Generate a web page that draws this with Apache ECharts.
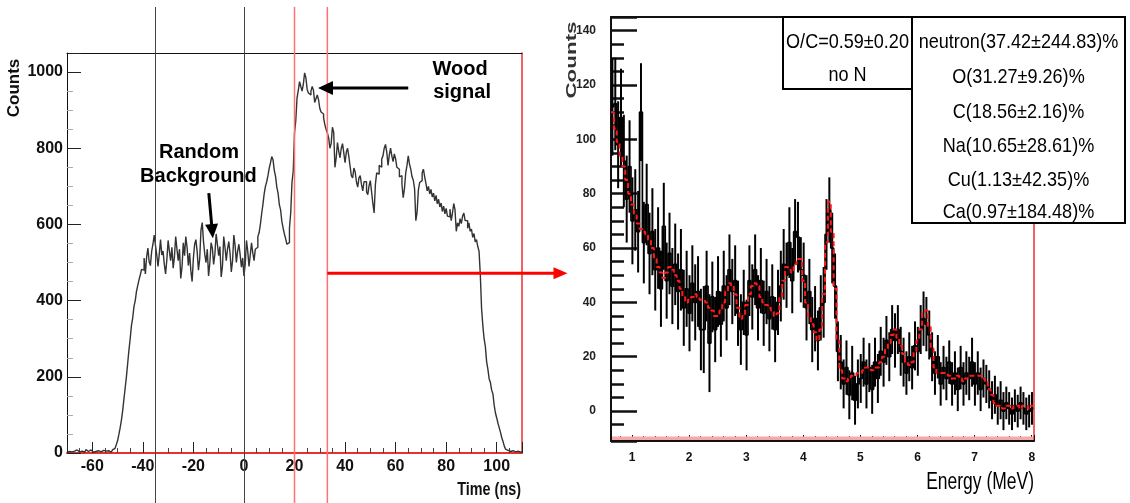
<!DOCTYPE html>
<html><head><meta charset="utf-8">
<script src="https://cdn.jsdelivr.net/npm/echarts@6/dist/echarts.min.js"></script>
<style>html,body{margin:0;padding:0;background:#fff}#c{width:1130px;height:503px}</style>
</head><body><div id="c"></div>
<script>
// ---------- DATA ----------
// Left: time spectrum, 0.5 ns bins starting at -70 ns
const timeStart = -70, timeBin = 0.5;
const timeCounts = [
  2,4,7,3,1,5,4,8,6,3,2,5,7,2,3,9,4,6,8,3,2,5,4,1,6,9,3,4,7,2,5,8,6,3,2,5,
  8,12,15,22,32,48,65,85,110,140,170,200,235,270,300,335,355,385,400,425,440,455,468,482,
  480,512,470,515,538,502,492,530,548,572,545,520,490,522,560,520,530,495,470,508,
  558,530,505,540,485,515,568,535,505,535,458,488,552,518,568,540,492,525,478,450,
  512,548,560,528,480,510,585,605,555,522,500,535,465,498,552,538,495,522,575,548,
  518,542,462,490,568,540,505,535,555,525,475,505,572,545,500,530,548,520,488,512,
  465,495,558,530,490,520,552,525,505,535,540,568,
  578,600,628,652,680,700,712,728,748,762,778,770,742,726,698,682,652,638,608,590,
  575,562,548,552,590,630,710,740,840,872,932,952,975,962,950,968,998,985,955,945,
  940,950,962,952,920,930,940,928,905,895,890,880,862,850,840,828,800,812,855,842,
  750,775,815,792,775,800,812,788,762,790,800,778,752,728,722,748,738,712,698,722,
  728,705,688,712,712,685,678,702,715,685,655,630,705,735,732,755,750,772,780,800,
  810,790,755,782,800,780,765,785,772,750,745,725,728,706,670,694,735,755,780,758,
  745,725,716,694,610,632,690,710,715,735,745,725,708,688,700,680,692,672,682,662,
  676,654,666,646,656,634,648,628,642,622,620,640,610,630,655,638,582,604,595,615,
  602,622,630,610,610,590,604,582,588,566,576,554,560,542,530,470,380,335,300,280,
  240,220,195,185,165,155,125,105,92,78,66,54,40,30,18,10,7,5,4,2,
  6,4,3,1,5,3,2,4
];
const backgroundCuts = [-35, 0];   // ns, black lines
const signalCuts = [20, 33];       // ns, red lines

// Right: energy spectrum, 0.05 MeV bins starting at 0.63 MeV
const energyStart = 0.63, energyBin = 0.05;
const measured = [
  112,113,98,108,92,78,90,70,74,66,
  110,62,76,58,66,52,60,45,68,48,
  58,46,54,44,52,38,45,36,47,40,
  44,30,30,46,25,42,30,44,32,46,
  38,52,44,48,36,30,40,28,48,42,
  52,38,48,36,44,34,42,30,40,46,
  54,50,62,48,66,64,52,50,38,44,
  30,34,26,38,40,65,74,60,46,22,
  18,10,16,6,14,4,10,12,18,10,
  16,8,18,12,22,18,26,20,30,26,
  30,22,18,14,20,16,24,22,30,34,
  32,28,20,14,20,10,16,12,18,10,
  14,8,16,10,14,12,18,10,14,8,
  12,10,8,4,6,2,4,0,3,1,
  -1,2,0,3,1,-1,0,1
];
const measuredErr = [
  18,17,16,18,17,16,17,16,15,15,
  18,15,15,15,16,15,15,14,16,14,
  15,14,15,14,15,14,14,14,14,14,
  13,15,16,13,18,13,12,13,12,13,
  12,13,12,13,12,13,12,13,13,12,
  13,12,12,12,12,12,12,12,12,13,
  13,12,13,12,12,13,12,12,12,12,
  12,12,11,12,13,13,12,13,12,11,
  10,9,10,9,10,9,9,9,9,9,
  9,9,9,9,9,9,9,9,9,10,
  9,9,9,8,9,8,9,9,9,10,
  10,9,9,8,8,8,8,8,8,8,
  8,8,8,8,8,8,9,8,8,8,
  7,7,7,7,7,7,7,7,6,6,
  6,6,6,6,6,6,6,6
];
const fitted = [
  110,104,99,94,90,85,80,76,72,69,
  67,66,65,63,60,56,53,51,49,51,
  53,52,50,48,45,42,40,41,42,43,
  42,41,41,40,38,37,35,35,37,40,
  44,47,46,43,38,34,35,39,43,46,
  47,46,42,40,39,38,37,35,36,42,
  48,53,52,51,54,56,56,48,40,35,
  32,29,26,30,43,62,77,66,45,26,
  15,12,11,12,13,13,14,14,15,16,
  16,15,16,16,18,20,23,25,28,30,
  27,24,21,18,17,18,22,26,30,36,
  37,31,23,16,14,14,14,14,13,12,
  12,13,12,11,12,13,13,13,13,13,
  12,11,8,6,3,2,2,1,2,2,
  1,2,2,1,2,2,1,2
];
const ratioLabels = ['O/C=0.59\u00b10.20', 'no N'];
const fractionLabels = ['neutron(37.42\u00b1244.83)%','O(31.27\u00b19.26)%','C(18.56\u00b12.16)%','Na(10.65\u00b128.61)%','Cu(1.13\u00b142.35)%','Ca(0.97\u00b1184.48)%'];

// annotation anchors (data coordinates of the left chart)
const woodArrow = {from:[65, 958], to:[29.3, 958]};
const bgArrow = {from:[-13.9, 682], to:[-12.3, 564]};
const transferArrow = {from:[33, 472], to:[128, 472]};
const annotations = [
  {text:'Wood', at:[85.5, 1008]}, {text:'signal', at:[86.3, 947]},
  {text:'Random', at:[-17.8, 790]}, {text:'Background', at:[-18, 727]}
];

// ---------- BUILD ----------
function stepData(start, bin, vals){
  const d = vals.map((v,i)=>[+(start+i*bin).toFixed(4), v]);
  d.push([+(start+vals.length*bin).toFixed(4), vals[vals.length-1]]);
  return d;
}
const errData = measured.map((v,i)=>[+(energyStart+(i+0.5)*energyBin).toFixed(4), v-measuredErr[i], v+measuredErr[i]]);

const SANS = "'Liberation Sans',Arial,sans-serif";
const isMult = (v,m)=> Math.abs(v/m - Math.round(v/m)) < 1e-6;

const chart = echarts.init(document.getElementById('c'), null, {renderer:'canvas'});
const hidden = {axisTick:{show:false}, axisLabel:{show:false}, splitLine:{show:false}};
const option = {
  animation:false,
  backgroundColor:'#fff',
  grid:[
    {left:67, top:53, width:455, height:400},
    {left:611, top:17, width:423, height:424}
  ],
  xAxis:[
    {gridIndex:0, type:'value', min:-70, max:110, minInterval:20, maxInterval:20,
     axisLine:{show:true, onZero:false, lineStyle:{color:'#e83030', width:2}},
     axisTick:{show:true, inside:true, length:11, lineStyle:{color:'#222', width:1}},
     minorTick:{show:true, splitNumber:4, length:5, lineStyle:{color:'#444', width:1}},
     axisLabel:{margin:6, color:'#111', fontFamily:SANS, fontWeight:'bold', fontSize:16,
       formatter:v=> isMult(v,20) ? String(Math.round(v)) : ''},
     splitLine:{show:false}},
    Object.assign({gridIndex:0, type:'value', position:'top', min:-70, max:110,
     axisLine:{show:true, onZero:false, lineStyle:{color:'#111', width:1}}}, hidden),
    {gridIndex:1, type:'value', min:0.63, max:8.04, minInterval:1, maxInterval:1,
     axisLine:{show:true, onZero:false, lineStyle:{color:'#111', width:2}},
     axisTick:{show:true, inside:true, length:6, lineStyle:{color:'#111', width:1}},
     minorTick:{show:true, splitNumber:5, length:5, lineStyle:{color:'#111', width:1}},
     axisLabel:{margin:11, color:'#111', fontFamily:SANS, fontWeight:'bold', fontSize:12,
       formatter:v=> isMult(v,1) ? String(Math.round(v)) : ''},
     splitLine:{show:false}},
    Object.assign({gridIndex:1, type:'value', position:'top', min:0.63, max:8.04,
     axisLine:{show:true, onZero:false, lineStyle:{color:'#111', width:2}}}, hidden)
  ],
  yAxis:[
    {gridIndex:0, type:'value', min:0, max:1050, interval:200,
     axisLine:{show:true, onZero:false, lineStyle:{color:'#111', width:1}},
     axisTick:{show:true, inside:true, length:14, lineStyle:{color:'#222', width:1}},
     minorTick:{show:true, splitNumber:4, length:6, lineStyle:{color:'#aaa', width:1}},
     axisLabel:{margin:4, color:'#111', fontFamily:SANS, fontWeight:'bold', fontSize:16,
       formatter:v=> isMult(v,200) ? String(Math.round(v)) : ''},
     splitLine:{show:false}},
    Object.assign({gridIndex:0, type:'value', position:'right', min:0, max:1050,
     axisLine:{show:true, onZero:false, lineStyle:{color:'#e83030', width:1.5}}}, hidden),
    {gridIndex:1, type:'value', min:-11, max:145, minInterval:20, maxInterval:20,
     axisLine:{show:true, onZero:false, lineStyle:{color:'#111', width:2}},
     axisTick:{show:true, inside:true, length:26, lineStyle:{color:'#111', width:2.5}},
     minorTick:{show:true, splitNumber:4, length:13, lineStyle:{color:'#111', width:2.5}},
     axisLabel:{margin:15, color:'#222', fontFamily:SANS, fontWeight:'bold', fontSize:12,
       formatter:v=> isMult(v,20) ? String(Math.round(v)) : ''},
     splitLine:{show:false}},
    Object.assign({gridIndex:1, type:'value', position:'right', min:-11, max:145,
     axisLine:{show:true, onZero:false, lineStyle:{color:'#e83030', width:1.5}}}, hidden)
  ],
  series:[
    {type:'line', xAxisIndex:0, yAxisIndex:0, step:'end', showSymbol:false, symbol:'none',
     data:stepData(timeStart, timeBin, timeCounts), lineStyle:{color:'#333', width:1.4}, z:3},
    {type:'line', xAxisIndex:2, yAxisIndex:2, step:'end', showSymbol:false, symbol:'none',
     data:stepData(energyStart, energyBin, measured), lineStyle:{color:'#000', width:1.7}, z:3},
    {type:'custom', xAxisIndex:2, yAxisIndex:2, data:errData, encode:{x:0, y:[1,2]}, z:3,
     renderItem:(params, api)=>{
       const x = api.value(0);
       const a = api.coord([x, api.value(1)]), b = api.coord([x, api.value(2)]);
       return {type:'line', shape:{x1:a[0], y1:a[1], x2:b[0], y2:b[1]}, style:{stroke:'#000', lineWidth:2}};
     }},
    {type:'line', xAxisIndex:2, yAxisIndex:2, step:'end', showSymbol:false, symbol:'none',
     data:stepData(energyStart, energyBin, fitted), lineStyle:{color:'#ff1a1a', width:2, type:[5,3]}, z:5}
  ]
};
chart.setOption(option);

// ---------- ANNOTATIONS ----------
const P = v => chart.convertToPixel({xAxisIndex:0, yAxisIndex:0}, v);
const g = [];
function arrow(p0, p1, color, w, hl, hw){
  const dx=p1[0]-p0[0], dy=p1[1]-p0[1], len=Math.hypot(dx,dy), ux=dx/len, uy=dy/len;
  const bx=p1[0]-ux*hl, by=p1[1]-uy*hl;
  g.push({type:'line', z:60, shape:{x1:p0[0], y1:p0[1], x2:bx+ux, y2:by+uy}, style:{stroke:color, lineWidth:w}});
  g.push({type:'polygon', z:60, shape:{points:[[p1[0],p1[1]],[bx-uy*hw, by+ux*hw],[bx+uy*hw, by-ux*hw]]}, style:{fill:color}});
}
backgroundCuts.forEach(t=>{ const x=Math.round(P([t,0])[0])+0.5;
  g.push({type:'line', z:50, shape:{x1:x,y1:7,x2:x,y2:503}, style:{stroke:'#444', lineWidth:1}}); });
signalCuts.forEach(t=>{ const x=P([t,0])[0];
  g.push({type:'line', z:50, shape:{x1:x,y1:7,x2:x,y2:503}, style:{stroke:'#ff7070', lineWidth:1.5}}); });
arrow(P(woodArrow.from), P(woodArrow.to), '#000', 3, 15, 7);
arrow(P(bgArrow.from), P(bgArrow.to), '#000', 3, 14, 6.5);
arrow(P(transferArrow.from), P(transferArrow.to), '#f00', 3, 14, 6);
annotations.forEach(a=>{ const p=P(a.at);
  g.push({type:'text', z:60, x:p[0], y:p[1], style:{text:a.text, font:'bold 20px '+SANS, fill:'#000', textAlign:'center', textVerticalAlign:'middle'}}); });

// axis titles
g.push({type:'text', z:60, x:14, y:88, rotation:Math.PI/2, style:{text:'Counts', font:'bold 17px '+SANS, fill:'#111', textAlign:'center', textVerticalAlign:'middle'}});
g.push({type:'text', z:60, x:521, y:490, scaleX:0.8, style:{text:'Time (ns)', font:'bold 18px '+SANS, fill:'#111', textAlign:'right', textVerticalAlign:'middle'}});
g.push({type:'text', z:60, x:572, y:60, rotation:Math.PI/2, scaleX:1.6, style:{text:'Counts', font:'bold 14px '+SANS, fill:'#333', textAlign:'center', textVerticalAlign:'middle'}});
g.push({type:'text', z:60, x:1034, y:483, scaleX:0.76, style:{text:'Energy (MeV)', font:'23px '+SANS, fill:'#000', textAlign:'right', textVerticalAlign:'middle'}});
// pink band along the bottom of the energy frame
g.push({type:'rect', z:40, shape:{x:612, y:436.5, width:421, height:3.5}, style:{fill:'#f6a8a8'}});

// fit result boxes
g.push({type:'rect', z:70, shape:{x:783, y:17, width:129, height:72}, style:{fill:'#fff', stroke:'#000', lineWidth:2}});
g.push({type:'rect', z:70, shape:{x:912, y:17, width:213, height:206}, style:{fill:'#fff', stroke:'#000', lineWidth:2}});
ratioLabels.forEach((t,i)=>{
  g.push({type:'text', z:71, x:847.5, y:[42,75][i], scaleX:0.86, style:{text:t, font:'21px '+SANS, fill:'#000', textAlign:'center', textVerticalAlign:'middle'}}); });
fractionLabels.forEach((t,i)=>{
  g.push({type:'text', z:71, x:1018.5, y:[42,77,112,146,180,212][i], scaleX:0.86, style:{text:t, font:'21px '+SANS, fill:'#000', textAlign:'center', textVerticalAlign:'middle'}}); });

chart.setOption({graphic:{elements:g}});
</script>
</body></html>
